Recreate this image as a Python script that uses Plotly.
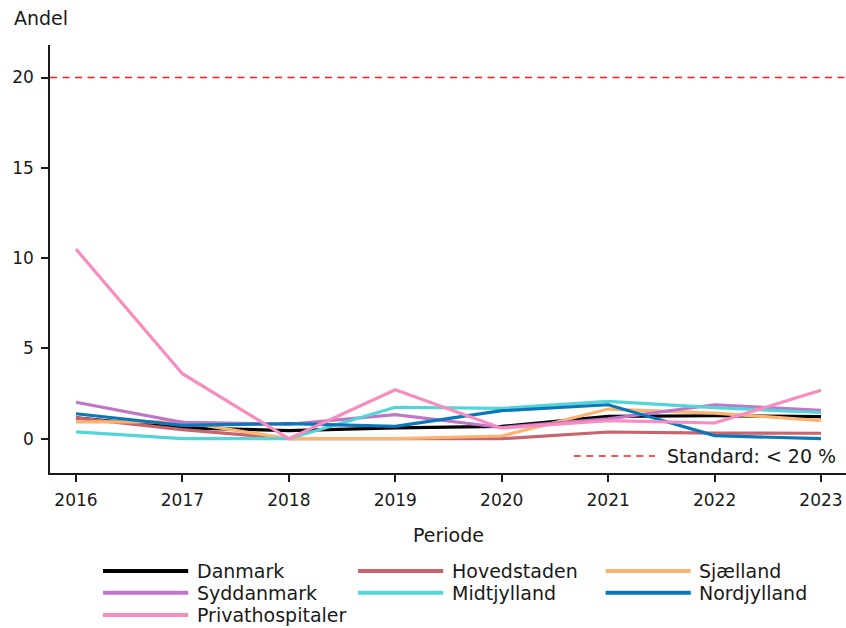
import plotly.graph_objects as go

years = [2016, 2017, 2018, 2019, 2020, 2021, 2022, 2023]

danmark = [1.15, 0.6, 0.45, 0.6, 0.68, 1.24, 1.27, 1.22]
hovedstaden = [1.15, 0.5, 0.0, 0.0, 0.0, 0.37, 0.31, 0.3]
sjaelland = [0.93, 0.93, 0.0, 0.0, 0.15, 1.64, 1.42, 1.0]
syddanmark = [2.02, 0.9, 0.8, 1.33, 0.62, 1.1, 1.88, 1.57]
midtjylland = [0.38, 0.0, 0.0, 1.74, 1.68, 2.07, 1.72, 1.45]
nordjylland = [1.38, 0.74, 0.83, 0.68, 1.55, 1.88, 0.17, 0.0]
privathospitaler = [10.5, 3.6, 0.0, 2.71, 0.58, 1.0, 0.87, 2.68]

serier = [
    ("Danmark", danmark, "#000000"),
    ("Hovedstaden", hovedstaden, "#c9636e"),
    ("Sjælland", sjaelland, "#fbb36f"),
    ("Syddanmark", syddanmark, "#c076c6"),
    ("Midtjylland", midtjylland, "#52d5d8"),
    ("Nordjylland", nordjylland, "#0a78b8"),
    ("Privathospitaler", privathospitaler, "#f98cbf"),
]

standard = 20
FONT = "DejaVu Sans"
RED = "#ff1a1a"

fig = go.Figure()
for navn, vaerdier, farve in serier:
    fig.add_trace(go.Scatter(
        x=years, y=vaerdier, name=navn, mode="lines",
        line=dict(color=farve, width=3.2), showlegend=False,
    ))

# standard-linje
fig.add_shape(type="line", xref="paper", x0=0, x1=1, yref="y", y0=standard, y1=standard,
              line=dict(color=RED, width=1.6, dash="7px,5.5px"))

# egen legende (3 kolonner)
kol_x = [0.0666, 0.387, 0.698]
raekke_y = [-0.229, -0.280, -0.332]
for i, (navn, _, farve) in enumerate(serier):
    kx = kol_x[i % 3]
    ry = raekke_y[i // 3]
    fig.add_shape(type="line", xref="paper", yref="paper", x0=kx, x1=kx + 0.107, y0=ry, y1=ry,
                  line=dict(color=farve, width=4))
    fig.add_annotation(text=navn, xref="paper", yref="paper", x=kx + 0.115, y=ry,
                       xanchor="left", yanchor="middle", showarrow=False,
                       font=dict(size=19, color="#1a1a1a"))

# standard-legende
fig.add_shape(type="line", xref="paper", yref="paper", x0=0.658, x1=0.760, y0=0.0397, y1=0.0397,
              line=dict(color=RED, width=1.6, dash="7px,5.5px"))
fig.add_annotation(text="Standard: < 20 %", xref="paper", yref="paper", x=0.773, y=0.0397,
                   xanchor="left", yanchor="middle", showarrow=False,
                   font=dict(size=19, color="#1a1a1a"))

fig.add_annotation(text="Andel", xref="paper", yref="paper", x=-0.0477, y=1.063,
                   xanchor="left", yanchor="middle", showarrow=False,
                   font=dict(size=19, color="#1a1a1a"))
fig.add_annotation(text="Periode", xref="paper", yref="paper", x=0.5, y=-0.145,
                   xanchor="center", yanchor="middle", showarrow=False,
                   font=dict(size=19, color="#1a1a1a"))

fig.update_layout(
    width=846, height=628,
    margin=dict(l=50, r=0, t=45, b=155),
    plot_bgcolor="white", paper_bgcolor="white",
    font=dict(family=FONT, size=17, color="#1a1a1a"),
    showlegend=False,
    xaxis=dict(range=[2015.756, 2023.235], tickmode="array", tickvals=years,
               showgrid=False, zeroline=False, showline=True, linecolor="#1a1a1a",
               linewidth=1.6, ticks="outside", ticklen=7, tickwidth=1.6,
               tickcolor="#1a1a1a", ticklabelstandoff=4),
    yaxis=dict(range=[-1.9, 21.8], tickvals=[0, 5, 10, 15, 20],
               showgrid=False, zeroline=False, showline=True, linecolor="#1a1a1a",
               linewidth=1.6, ticks="outside", ticklen=7, tickwidth=1.6,
               tickcolor="#1a1a1a", ticklabelstandoff=4),
)

# fjern sidens standard body-margin, så figuren fylder vinduet præcist
fig.write_html("out.html",
               config={"displayModeBar": False},
               post_script="document.body.style.margin='0';document.body.style.overflow='hidden';")
